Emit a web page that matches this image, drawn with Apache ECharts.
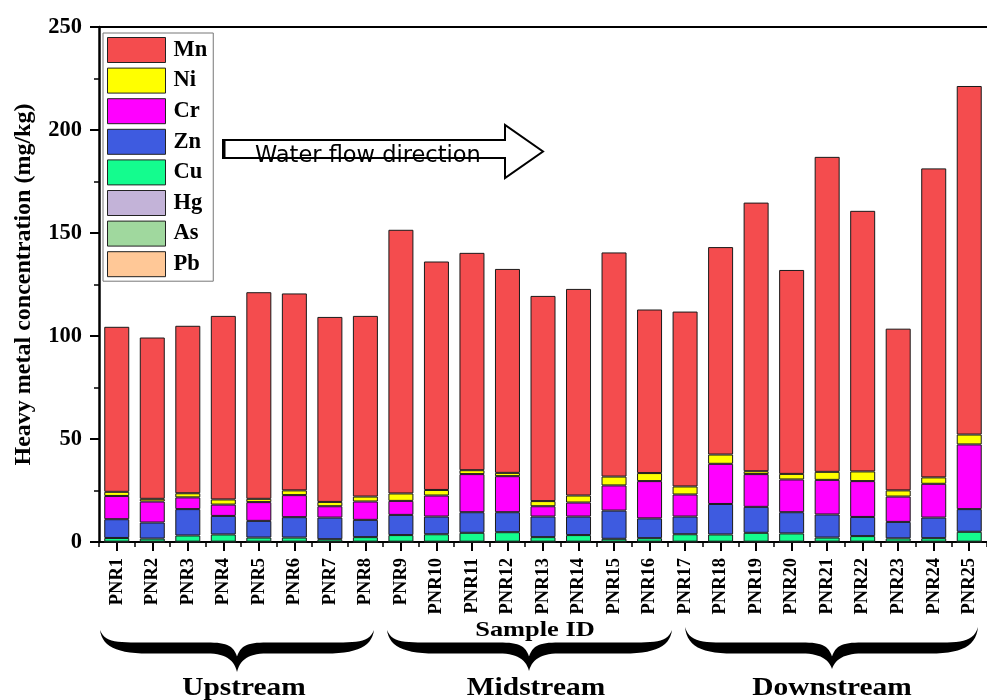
<!DOCTYPE html>
<html>
<head>
<meta charset="utf-8">
<script src="https://cdn.jsdelivr.net/npm/echarts@6/dist/echarts.min.js"></script>
<style>
html,body{margin:0;padding:0;background:#fff;}
#chart{width:987px;height:700px;}
</style>
</head>
<body>
<div id="chart"></div>
<script>
const categories = ['PNR1','PNR2','PNR3','PNR4','PNR5','PNR6','PNR7','PNR8','PNR9','PNR10','PNR11','PNR12','PNR13','PNR14','PNR15','PNR16','PNR17','PNR18','PNR19','PNR20','PNR21','PNR22','PNR23','PNR24','PNR25'];
const yTicks = [0, 50, 100, 150, 200, 250];
const Pb = [0.1,0.1,0.1,0.1,0.1,0.1,0.1,0.1,0.1,0.1,0.1,0.1,0.1,0.1,0.1,0.1,0.1,0.1,0.1,0.1,0.1,0.1,0.1,0.1,0.1];
const As = [0.05,0.05,0.05,0.05,0.05,0.05,0.05,0.05,0.05,0.05,0.05,0.05,0.05,0.05,0.05,0.05,0.05,0.05,0.05,0.05,0.05,0.05,0.05,0.05,0.05];
const Hg = [0.01,0.01,0.01,0.01,0.01,0.01,0.01,0.01,0.01,0.01,0.01,0.01,0.01,0.01,0.01,0.01,0.01,0.01,0.01,0.01,0.01,0.01,0.01,0.01,0.01];
const Cu = [1.8,1.5,3.0,3.5,2.0,2.0,1.2,2.2,3.2,3.6,4.3,4.6,2.2,3.2,1.4,1.7,3.6,3.5,4.3,4.0,2.0,2.7,1.6,1.7,4.8];
const Zn = [9.1,7.8,12.8,9.0,8.1,9.9,10.5,8.4,9.8,8.6,10.0,9.7,10.0,9.0,13.7,9.6,8.6,14.8,12.6,10.3,11.2,9.3,8.0,10.0,11.0];
const Cr = [11.3,10.2,5.7,5.5,9.1,10.7,5.5,8.9,6.8,10.2,18.5,17.5,5.0,6.8,12.2,18.1,10.7,19.5,15.9,15.9,16.8,17.4,12.3,16.4,31.4];
const Ni = [2.0,1.3,2.0,2.5,1.6,2.3,2.1,2.4,3.6,2.7,1.9,1.6,2.5,3.4,4.3,3.9,3.9,4.5,1.4,2.7,3.9,4.7,3.0,3.1,4.8];
const Mn = [80.1,78.3,81.3,89.1,100.3,95.6,89.8,87.7,128.0,110.9,105.5,99.0,99.6,100.3,108.8,79.4,84.9,100.7,130.4,99.0,152.9,126.5,78.5,150.0,169.2];
const groupLabels = ['Upstream','Midstream','Downstream'];

const serif = '"Liberation Serif","Times New Roman",serif';
const colors = {Mn:'#F44C4E', Ni:'#FFFF00', Cr:'#FF00FF', Zn:'#3E5BE0', Cu:'#14FC8E', Hg:'#C3B3D8', As:'#A0D89E', Pb:'#FFC897'};
const seriesDefs = [['Pb',Pb],['As',As],['Hg',Hg],['Cu',Cu],['Zn',Zn],['Cr',Cr],['Ni',Ni],['Mn',Mn]];

// sample a chain of cubic beziers into polygon points
function sampleChain(start, segs){
  const pts = [start];
  let p0 = start;
  segs.forEach(s => {
    if (s.length === 1) { pts.push(s[0]); p0 = s[0]; return; }
    const [c1, c2, p3] = s;
    for (let i = 1; i <= 14; i++) {
      const t = i / 14, u = 1 - t;
      pts.push([
        u*u*u*p0[0] + 3*u*u*t*c1[0] + 3*u*t*t*c2[0] + t*t*t*p3[0],
        u*u*u*p0[1] + 3*u*u*t*c1[1] + 3*u*t*t*c2[1] + t*t*t*p3[1]
      ]);
    }
    p0 = p3;
  });
  return pts;
}
function bracePoints(x1, x2, xm, y0, yb, h, ytip){
  return sampleChain([x1,y0], [
    [[x1+2,yb-2],[x1+16,yb+h],[x1+48,yb+h]],
    [[xm-30,yb+h]],
    [[xm-12,yb+h],[xm-3,yb+h+6],[xm,ytip]],
    [[xm+3,yb+h+6],[xm+12,yb+h],[xm+30,yb+h]],
    [[x2-48,yb+h]],
    [[x2-16,yb+h],[x2-2,yb-2],[x2,y0]],
    [[x2-5,yb-5],[x2-18,yb-h],[x2-48,yb-h]],
    [[xm+30,yb-h]],
    [[xm+12,yb-h],[xm+4,yb-h+2],[xm,yb+h+3]],
    [[xm-4,yb-h+2],[xm-12,yb-h],[xm-30,yb-h]],
    [[x1+48,yb-h]],
    [[x1+18,yb-h],[x1+5,yb-5],[x1,y0]]
  ]);
}

const chart = echarts.init(document.getElementById('chart'), null, {renderer:'canvas'});
const option = {
  backgroundColor:'#fff',
  animation:false,
  grid:{left:99, right:-8, top:27, bottom:158, containLabel:false},
  legend:{
    orient:'vertical', left:103, top:33,
    data:['Mn','Ni','Cr','Zn','Cu','Hg','As','Pb'],
    itemWidth:58, itemHeight:25, itemGap:4.6,
    padding:[4,6,4,4],
    borderColor:'#777', borderWidth:1, backgroundColor:'#fff',
    icon:'rect',
    itemStyle:{borderColor:'#222', borderWidth:1},
    textStyle:{fontFamily:serif, fontWeight:'bold', fontSize:22.5, color:'#000', padding:[0,0,0,3]}
  },
  xAxis:[
    {type:'category', data:categories, position:'bottom',
     axisLine:{show:true, lineStyle:{color:'#000', width:2}},
     axisTick:{show:true, alignWithLabel:true, length:9, lineStyle:{color:'#000', width:2}},
     axisLabel:{rotate:90, margin:16, interval:0, fontFamily:serif, fontWeight:'bold', fontSize:18.5, color:'#000'},
     splitLine:{show:false}},
    {type:'category', data:categories, position:'bottom',
     axisLine:{show:false},
     axisTick:{show:true, length:5, interval:0, lineStyle:{color:'#000', width:1.5}},
     axisLabel:{show:false}, splitLine:{show:false}},
    {type:'category', data:categories, position:'top',
     axisLine:{show:true, lineStyle:{color:'#000', width:2}},
     axisTick:{show:false}, axisLabel:{show:false}, splitLine:{show:false}}
  ],
  yAxis:{
    type:'value', min:yTicks[0], max:yTicks[yTicks.length-1], interval:50,
    name:'Heavy metal concentration (mg/kg)', nameLocation:'middle', nameGap:63, nameRotate:90,
    nameTextStyle:{fontFamily:serif, fontWeight:'bold', fontSize:24, color:'#000'},
    axisLine:{show:true, lineStyle:{color:'#000', width:2.5}},
    axisTick:{show:true, inside:false, length:9, lineStyle:{color:'#000', width:2}},
    minorTick:{show:true, splitNumber:2, length:5, lineStyle:{color:'#000', width:1.5}},
    axisLabel:{margin:17, fontFamily:serif, fontWeight:'bold', fontSize:22.5, color:'#000'},
    splitLine:{show:false}
  },
  series: seriesDefs.map(([name, vals]) => ({
    name, type:'bar', stack:'total', data:vals, xAxisIndex:0,
    barWidth:25,
    itemStyle:{color:colors[name], borderColor:'#1a1a1a', borderWidth:1}
  })),
  graphic:[
    {type:'polygon', z:10,
     shape:{points:[[223,140],[505,140],[505,125],[543,151.5],[505,178],[505,158],[223,158]]},
     style:{fill:'#fff', stroke:'#000', lineWidth:2}},
    {type:'line', z:11, shape:{x1:224,y1:139,x2:224,y2:159}, style:{stroke:'#000', lineWidth:3}},
    {type:'text', z:12, x:255, y:156,
     style:{text:'Water flow direction', fill:'#000', font:'normal 22.5px "DejaVu Sans",sans-serif', textAlign:'left', verticalAlign:'middle'}},
    {type:'text', z:12, x:535, y:630, scaleX:1.2,
     style:{text:'Sample ID', fill:'#000', font:'bold 22px '+serif, textAlign:'center', verticalAlign:'middle'}},
    {type:'polygon', z:10, shape:{points:bracePoints(100,374,237,630,648,5.5,672)}, style:{fill:'#000'}},
    {type:'polygon', z:10, shape:{points:bracePoints(387,672,529,630,648,5.5,671)}, style:{fill:'#000'}},
    {type:'polygon', z:10, shape:{points:bracePoints(685,978,832,627,648,5.5,669)}, style:{fill:'#000'}},
    {type:'text', z:12, x:244, y:689, scaleX:1.2,
     style:{text:groupLabels[0], fill:'#000', font:'bold 24.5px '+serif, textAlign:'center', verticalAlign:'middle'}},
    {type:'text', z:12, x:536, y:689, scaleX:1.2,
     style:{text:groupLabels[1], fill:'#000', font:'bold 24.5px '+serif, textAlign:'center', verticalAlign:'middle'}},
    {type:'text', z:12, x:832, y:689, scaleX:1.2,
     style:{text:groupLabels[2], fill:'#000', font:'bold 24.5px '+serif, textAlign:'center', verticalAlign:'middle'}}
  ]
};
chart.setOption(option);
</script>
</body>
</html>
